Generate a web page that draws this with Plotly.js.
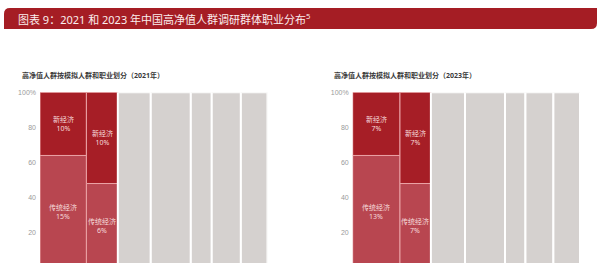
<!DOCTYPE html>
<html>
<head>
<meta charset="utf-8">
<script src="https://cdn.plot.ly/plotly-3.0.1.min.js"></script>
<style>html,body{margin:0;padding:0;background:#fff;}#chart{width:600px;height:263px;}</style>
</head>
<body>
<div id="chart"></div>
<script>
// ---- data ----
const years = ["2021", "2023"];
// width of each column (share of respondents, %), 7 columns per year
const widths2021 = [20.4, 13.8, 14.5, 17.6, 9.2, 12.8, 11.7];
const widths2023 = [20.8, 13.6, 15.0, 17.6, 9.0, 12.3, 11.7];
// stacked segment heights (share within column, %) for the first two columns
const tradHeight2021 = [64, 48];
const newHeight2021  = [36, 52];
const tradHeight2023 = [64, 48];
const newHeight2023  = [36, 52];
// labels shown on segments
const newLabels2021  = ["10%", "10%"];
const tradLabels2021 = ["15%", "6%"];
const newLabels2023  = ["7%", "7%"];
const tradLabels2023 = ["13%", "7%"];
const newName = "新经济";
const tradName = "传统经济";
const greyHeight = [100, 100, 100, 100, 100];
const yTickVals = [20, 40, 60, 80, 100];
const yTickText = ["20", "40", "60", "80", "100%"];
const mainTitle = "图表 9：2021 和 2023 年中国高净值人群调研群体职业分布<sup>5</sup>";
const subTitles = ["高净值人群按模拟人群和职业划分（2021年）", "高净值人群按模拟人群和职业划分（2023年）"];

const W = 600, H = 263;
const CJK = '"Noto Sans", "Noto Sans CJK SC", sans-serif';
const cRed = '#a61e26', cTrad = '#b84650', cGrey = '#d5d1cf', cSep = '#eba3a6';

function lefts(w){ const out=[]; let s=0; for(const v of w){ out.push(s); s+=v; } return out; }

const sets = [
  {w: widths2021, th: tradHeight2021, nh: newHeight2021, nl: newLabels2021, tl: tradLabels2021, xa:'x', ya:'y'},
  {w: widths2023, th: tradHeight2023, nh: newHeight2023, nl: newLabels2023, tl: tradLabels2023, xa:'x2', ya:'y2'}
];
const traces = [], annotations = [];
sets.forEach((s, k) => {
  const L = lefts(s.w);
  traces.push({type:'bar', x:L.slice(0,2), y:s.th, width:s.w.slice(0,2), offset:0, base:[0,0],
    marker:{color:cTrad, line:{color:cSep, width:1}}, xaxis:s.xa, yaxis:s.ya, hoverinfo:'skip'});
  traces.push({type:'bar', x:L.slice(0,2), y:s.nh, width:s.w.slice(0,2), offset:0, base:s.th,
    marker:{color:cRed, line:{color:cSep, width:1}}, xaxis:s.xa, yaxis:s.ya, hoverinfo:'skip'});
  traces.push({type:'bar', x:L.slice(2), y:greyHeight, width:s.w.slice(2), offset:0, base:[0,0,0,0,0],
    marker:{color:cGrey, line:{color:'#ffffff', width:2}}, xaxis:s.xa, yaxis:s.ya, hoverinfo:'skip'});
  for (let i=0;i<2;i++){
    annotations.push({xref:s.xa, yref:s.ya, x:L[i]+s.w[i]/2, y:s.th[i]+s.nh[i]/2,
      text:newName+'<br>'+s.nl[i], showarrow:false, font:{family:CJK, size:7, color:'#f6dcdc'}, align:'center'});
    annotations.push({xref:s.xa, yref:s.ya, x:L[i]+s.w[i]/2, y:s.th[i]/2,
      text:tradName+'<br>'+s.tl[i], showarrow:false, font:{family:CJK, size:7, color:'#f6dcdc'}, align:'center'});
  }
  annotations.push({xref:'paper', yref:'paper', x:(k===0?20:332)/W, y:1-75/H, xanchor:'left', yanchor:'middle',
    text:'<b>'+subTitles[k]+'</b>', showarrow:false, font:{family:CJK, size:7, color:'#3a3a3a'}});
});
annotations.push({xref:'paper', yref:'paper', x:16/W, y:1-19/H, xanchor:'left', yanchor:'middle',
  text:mainTitle, showarrow:false, font:{family:CJK, size:11, color:'#fbeeee'}});

function px(x){ return (x/W).toFixed(5); }
function py(y){ return (1-y/H).toFixed(5); }
const bannerPath = `M ${px(4)},${py(29)} L ${px(4)},${py(14)} Q ${px(4)},${py(8)} ${px(10)},${py(8)} L ${px(597)},${py(8)} L ${px(597)},${py(23)} Q ${px(597)},${py(29)} ${px(591)},${py(29)} Z`;

const yBase = {range:[2.7,100], domain:[0, 1-92.3/H], showgrid:false, zeroline:false, showline:false,
  tickvals:yTickVals, ticktext:yTickText, tickfont:{family:'"Liberation Sans", Arial, sans-serif', size:7, color:'#9a9a9a'},
  ticks:'', ticklabelstandoff:3, fixedrange:true};
const xBase = {showgrid:false, zeroline:false, showline:false, showticklabels:false, ticks:'', range:[0,100], fixedrange:true};

const layout = {
  width:W, height:H, margin:{l:0,r:0,t:0,b:0}, paper_bgcolor:'#ffffff', plot_bgcolor:'rgba(0,0,0,0)',
  showlegend:false, barmode:'overlay', bargap:0,
  xaxis: Object.assign({}, xBase, {domain:[40/W, 267.5/W], anchor:'y'}),
  xaxis2: Object.assign({}, xBase, {domain:[352.7/W, 580/W], anchor:'y2'}),
  yaxis: Object.assign({}, yBase, {anchor:'x'}),
  yaxis2: Object.assign({}, yBase, {anchor:'x2'}),
  shapes:[{type:'path', xref:'paper', yref:'paper', path:bannerPath, fillcolor:'#a51d24', line:{width:0}, layer:'below'}],
  annotations: annotations
};
Plotly.newPlot('chart', traces, layout, {displayModeBar:false, staticPlot:true});
</script>
</body>
</html>
